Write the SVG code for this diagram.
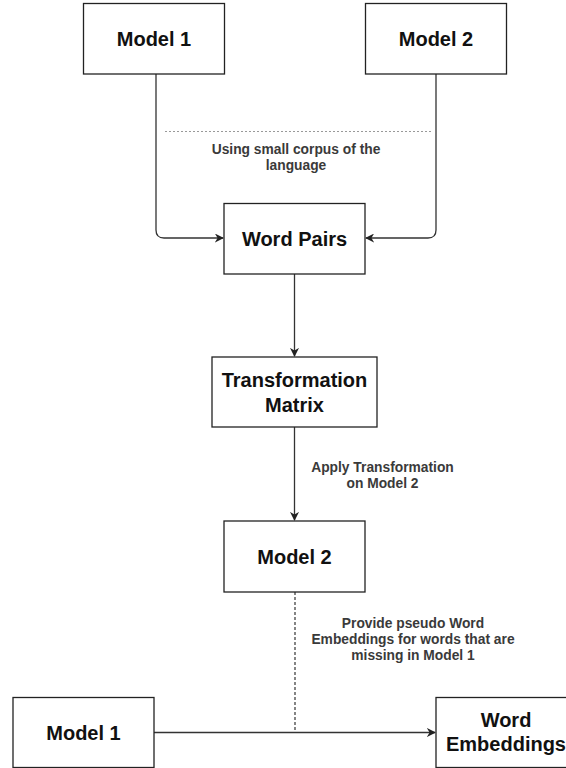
<svg xmlns="http://www.w3.org/2000/svg" width="566" height="768" viewBox="0 0 566 768">
<defs>
<style>
.box{fill:#fff;stroke:#222;stroke-width:1.3}
.title{font-family:"Liberation Sans",Arial,sans-serif;font-weight:bold;font-size:20px;fill:#111;text-anchor:middle}
.label{font-family:"Liberation Sans",Arial,sans-serif;font-weight:bold;font-size:13.8px;fill:#3a3a3a;text-anchor:middle}
.conn{fill:none;stroke:#333;stroke-width:1.3}
.dots{fill:none;stroke:#999;stroke-width:1;stroke-dasharray:2 2}
.dash{fill:none;stroke:#444;stroke-width:1.3;stroke-dasharray:3 2}
</style>
<marker id="arr" viewBox="0 0 10 10" refX="9" refY="5" markerWidth="9" markerHeight="9" markerUnits="userSpaceOnUse" orient="auto">
<path d="M0,0 L10,5 L0,10 L3,5 Z" fill="#222"/>
</marker>
</defs>
<rect width="566" height="768" fill="#fff"/>
<g id="connectors">
<path class="conn" d="M156,74 V230 Q156,238 164,238 H223" marker-end="url(#arr)"/>
<path class="conn" d="M436,74 V230 Q436,238 428,238 H366" marker-end="url(#arr)"/>
<path class="conn" d="M294.5,274 V356" marker-end="url(#arr)"/>
<path class="conn" d="M294.5,427 V520" marker-end="url(#arr)"/>
<path class="conn" d="M154,732.5 H435" marker-end="url(#arr)"/>
<path class="dash" d="M295,592 V732"/>
<path class="dots" d="M165,131.5 H433"/>
<text class="label" x="296" y="154">Using small corpus of the</text>
<text class="label" x="296" y="170">language</text>
<text class="label" x="382.5" y="471.5">Apply Transformation</text>
<text class="label" x="382.5" y="487.5">on Model 2</text>
<text class="label" x="413" y="627.5">Provide pseudo Word</text>
<text class="label" x="413" y="643.5">Embeddings for words that are</text>
<text class="label" x="413" y="659.5">missing in Model 1</text>
</g>
<g id="model1-top">
<rect class="box" x="83.5" y="3.5" width="141" height="70.5"/>
<text class="title" x="154" y="46">Model 1</text>
</g>
<g id="model2-top">
<rect class="box" x="365.5" y="3.5" width="141" height="70.5"/>
<text class="title" x="436" y="46">Model 2</text>
</g>
<g id="word-pairs">
<rect class="box" x="224" y="203.5" width="141" height="70.5"/>
<text class="title" x="294.5" y="245.5">Word Pairs</text>
</g>
<g id="transformation-matrix">
<rect class="box" x="212" y="357" width="165" height="70"/>
<text class="title" x="294.5" y="386.5">Transformation</text>
<text class="title" x="294.5" y="411.5">Matrix</text>
</g>
<g id="model2-mid">
<rect class="box" x="224" y="521" width="141" height="71"/>
<text class="title" x="294.5" y="563.5">Model 2</text>
</g>
<g id="model1-bottom">
<rect class="box" x="13" y="697.5" width="141" height="70"/>
<text class="title" x="83.5" y="740">Model 1</text>
</g>
<g id="word-embeddings">
<rect class="box" x="436" y="697.5" width="141" height="70"/>
<text class="title" x="506" y="726.5">Word</text>
<text class="title" x="506" y="750.5">Embeddings</text>
</g>
</svg>
